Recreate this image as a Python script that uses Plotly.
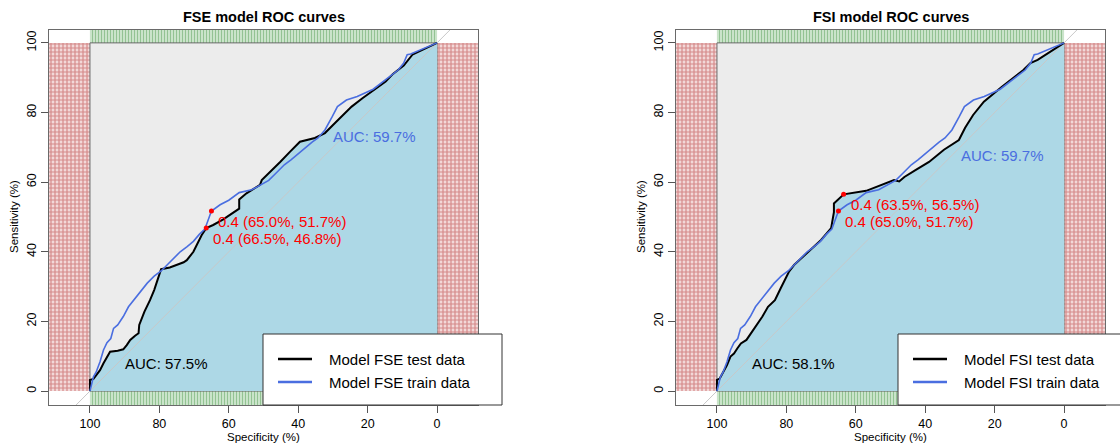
import plotly.graph_objects as go

W, H = 1120, 448

# ---------------- data ----------------
fse_test_spec = [100, 100, 99, 98.2, 97.1, 96.1, 95.1, 94.2, 92, 90.4, 89.4, 88.4, 87, 86, 85.8, 85.3,
                 84.3, 82.7, 81.5, 80.5, 79.5, 77, 75, 73, 72.1, 70.2, 67.8, 66.5, 64.5, 61.6, 57, 57,
                 54.9, 53.4, 51, 50.5, 48.1, 45.2, 42.4, 39.5, 35.2, 32.3, 29.4, 27.1, 24.6, 21.5, 18.9,
                 17.3, 14.8, 12.7, 11.2, 9.6, 7.1, 0]
fse_test_sens = [0, 3.2, 3.5, 4.6, 6, 8, 9.9, 11.3, 11.6, 12, 13.2, 14.7, 15.9, 16.6, 19, 20.4,
                 22.8, 26.1, 29, 32, 35, 35.5, 36.2, 37, 37.6, 40, 44.8, 46.8, 47.7, 49.3, 52.4, 55,
                 56.8, 57.8, 59.2, 60.6, 62.9, 65.8, 68.7, 71.6, 72.7, 74.1, 77, 79.3, 81.7, 84.1, 86,
                 87, 88.9, 91.1, 92.4, 93.5, 96.6, 100]

fsi_test_spec = [100, 100, 99.2, 98.2, 97.1, 96.1, 95.1, 94.1, 93.1, 91.5, 89.9, 88.4, 86.9, 85.3, 83.3,
                 81.6, 79.3, 77.8, 74.9, 73, 70, 67.1, 66.3, 66.3, 64.8, 63.5, 57, 50.9, 49, 47.5, 46,
                 42.7, 38.9, 34.6, 30.3, 28.5, 26.2, 23.1, 17.9, 11.7, 9.7, 7.6, 0]
fsi_test_sens = [0, 3.2, 3.6, 5.5, 7.5, 9.9, 10.8, 12.3, 13.7, 14.7, 17, 19, 21.4, 24.2, 26.1,
                 29.6, 34.2, 36.2, 38.8, 40.5, 43.4, 46.8, 51.4, 53.9, 55.4, 56.5, 57.5, 59.7, 60.6, 60.2, 61.5,
                 63.5, 65.8, 69.3, 72.1, 75.6, 79.3, 83.1, 87.4, 92.2, 94.2, 95.1, 100]

train_spec = [100, 99.4, 99, 98.2, 97.1, 96.1, 95.1, 94, 93.2, 92, 90.4, 88.9, 87.4, 85.5, 83.5, 81.5,
              79.5, 77.5, 75.5, 74, 72, 70.2, 68.5, 66.9, 65, 62.5, 60, 57, 53.4, 51, 48.5, 46.5, 44,
              42, 40, 38, 36, 34.3, 32.3, 30.2, 28.7, 26.1, 23, 18.4, 14.3, 11.2, 9.6, 8.6, 7.6, 0]
train_sens = [0, 2.7, 4.1, 5.5, 8.4, 11.8, 13.9, 15.1, 18, 19, 21.4, 24.2, 26.1, 28.5, 31, 33,
              34.5, 36.5, 38.5, 40, 41.5, 43, 45, 46.5, 51.7, 53.5, 54.8, 57, 57.8, 59.2, 60.5, 62.5, 65,
              66.5, 68.2, 69.8, 71.5, 72.7, 75, 78.8, 81.7, 83.6, 84.6, 86.7, 89.7, 92.2, 94.2, 96.6, 96.8, 100]

fse_thr_spec = [65.0, 66.5]
fse_thr_sens = [51.7, 46.8]
fsi_thr_spec = [63.5, 65.0]
fsi_thr_sens = [56.5, 51.7]
thr_value = 0.4

fse_auc = [57.5, 59.7]   # test, train
fsi_auc = [58.1, 59.7]
fse_auc_pos = [(90.5, 8.0), (30.5, 73.0)]
fsi_auc_pos = [(90.5, 8.0), (30.3, 67.8)]

titles = ["FSE model ROC curves", "FSI model ROC curves"]
legend_labels = [["Model FSE test data", "Model FSE train data"],
                 ["Model FSI test data", "Model FSI train data"]]
tick_vals = [0, 20, 40, 60, 80, 100]

# ---------------- style ----------------
FONT = "Liberation Sans, Arial, sans-serif"
BLACK = "#000000"
BLUE = "#4a6ee0"
RED = "#ff0000"
X_RANGE = [111.8, -11.8]
Y_RANGE = [-4.0, 103.7]
BOX_PX = [(49, 478), (676, 1105)]
BOX_Y_PX = (30, 405)


def px_x(p):
    return p / W


def px_y(p):
    return 1 - p / H


fig = go.Figure()

panels = [
    dict(test_spec=fse_test_spec, test_sens=fse_test_sens, thr_spec=fse_thr_spec,
         thr_sens=fse_thr_sens, auc=fse_auc, auc_pos=fse_auc_pos),
    dict(test_spec=fsi_test_spec, test_sens=fsi_test_sens, thr_spec=fsi_thr_spec,
         thr_sens=fsi_thr_sens, auc=fsi_auc, auc_pos=fsi_auc_pos),
]

annotations = []
shapes = []

for i, p in enumerate(panels):
    xa = "x" if i == 0 else "x2"
    ya = "y" if i == 0 else "y2"
    common = dict(xaxis=xa, yaxis=ya, showlegend=False, hoverinfo="skip")

    # red hatched zones (specificity outside 0-100)
    for xs in ([X_RANGE[0], 100, 100, X_RANGE[0]], [0, X_RANGE[1], X_RANGE[1], 0]):
        fig.add_trace(go.Scatter(x=xs, y=[0, 0, 100, 100], mode="lines", fill="toself",
                                 line=dict(width=0), fillcolor="#ebc4c4",
                                 fillpattern=dict(shape="+", fgcolor="#b83a3a", bgcolor="#f2d8d8",
                                                  size=4, solidity=0.5),
                                 **common))
    # green hatched zones (sensitivity outside 0-100)
    for ys in ([100, 100, Y_RANGE[1], Y_RANGE[1]], [Y_RANGE[0], Y_RANGE[0], 0, 0]):
        fig.add_trace(go.Scatter(x=[100, 0, 0, 100], y=ys, mode="lines", fill="toself",
                                 line=dict(width=0), fillcolor="#cfe5cf",
                                 fillpattern=dict(shape="|", fgcolor="#4a984a", bgcolor="#dcefdc",
                                                  size=3, solidity=0.5),
                                 **common))
    # max AUC polygon (grey square)
    fig.add_trace(go.Scatter(x=[100, 0, 0, 100, 100], y=[0, 0, 100, 100, 0], mode="lines",
                             fill="toself", fillcolor="#ececec",
                             line=dict(color="#6a6a6a", width=1), **common))
    # AUC polygon under the test curve
    fig.add_trace(go.Scatter(x=p["test_spec"] + [0, 100], y=p["test_sens"] + [0, 0], mode="lines",
                             fill="toself", fillcolor="#add8e6", line=dict(width=0), **common))
    # chance diagonal
    fig.add_trace(go.Scatter(x=[120, -20], y=[-20, 120], mode="lines",
                             line=dict(color="#c8c8c8", width=1), **common))
    # ROC curves
    fig.add_trace(go.Scatter(x=p["test_spec"], y=p["test_sens"], mode="lines",
                             line=dict(color=BLACK, width=2), **common))
    fig.add_trace(go.Scatter(x=train_spec, y=train_sens, mode="lines",
                             line=dict(color=BLUE, width=1.6), **common))
    # thresholds
    fig.add_trace(go.Scatter(x=p["thr_spec"], y=p["thr_sens"], mode="markers",
                             marker=dict(color=RED, size=5), cliponaxis=False, **common))
    for sx, sy in zip(p["thr_spec"], p["thr_sens"]):
        annotations.append(dict(x=sx, y=sy, xref=xa, yref=ya, xanchor="left", yanchor="middle",
                                xshift=5, yshift=-10, showarrow=False,
                                text=f"{thr_value} ({sx:.1f}%, {sy:.1f}%)",
                                font=dict(family=FONT, size=15, color=RED)))
    # AUC labels
    for (ax_, ay_), val, col in zip(p["auc_pos"], p["auc"], [BLACK, BLUE]):
        annotations.append(dict(x=ax_, y=ay_, xref=xa, yref=ya, xanchor="left", yanchor="middle",
                                showarrow=False, text=f"AUC: {val}%",
                                font=dict(family=FONT, size=15, color=col)))

    bx0, bx1 = BOX_PX[i]
    cx = (bx0 + bx1) / 2
    # title
    annotations.append(dict(x=px_x(cx), y=px_y(17), xref="paper", yref="paper", showarrow=False,
                            xanchor="center", yanchor="middle", text=f"<b>{titles[i]}</b>",
                            font=dict(family=FONT, size=14.5, color="#000")))
    # axis titles
    annotations.append(dict(x=px_x(cx), y=px_y(437), xref="paper", yref="paper", showarrow=False,
                            xanchor="center", yanchor="middle", text="Specificity (%)",
                            font=dict(family=FONT, size=11.5, color="#000")))
    annotations.append(dict(x=px_x(bx0 - 35), y=px_y(217), xref="paper", yref="paper",
                            showarrow=False, xanchor="center", yanchor="middle", textangle=-90,
                            text="Sensitivity (%)", font=dict(family=FONT, size=11.5, color="#000")))

    # legend (drawn like R's legend box)
    lx0 = 263 if i == 0 else 898
    lx1 = lx0 + 239
    ly0, ly1 = 334, 405
    shapes.append(dict(type="rect", xref="paper", yref="paper", x0=px_x(lx0), x1=px_x(lx1),
                       y0=px_y(ly1), y1=px_y(ly0), fillcolor="white",
                       line=dict(color="#333333", width=1), layer="above"))
    for k, (col, lab) in enumerate(zip([BLACK, BLUE], legend_labels[i])):
        yy = 359 + k * 23
        shapes.append(dict(type="line", xref="paper", yref="paper", x0=px_x(lx0 + 15),
                           x1=px_x(lx0 + 49), y0=px_y(yy), y1=px_y(yy),
                           line=dict(color=col, width=2.5), layer="above"))
        annotations.append(dict(x=px_x(lx0 + 64), y=px_y(yy), xref="paper", yref="paper",
                                showarrow=False, xanchor="left", yanchor="middle", text=lab,
                                font=dict(family=FONT, size=15, color="#000")))

axis_common = dict(showgrid=False, zeroline=False, showline=True, mirror=True,
                   linecolor="#6a6a6a", linewidth=1, ticks="outside", ticklen=7,
                   tickcolor="#555555", tickvals=tick_vals,
                   tickfont=dict(family=FONT, size=12.5, color="#000"), fixedrange=True)

layout_axes = {}
for i in range(2):
    sfx = "" if i == 0 else "2"
    bx0, bx1 = BOX_PX[i]
    layout_axes["xaxis" + sfx] = dict(axis_common, range=X_RANGE,
                                      domain=[px_x(bx0), px_x(bx1)],
                                      anchor="y" + sfx)
    layout_axes["yaxis" + sfx] = dict(axis_common, range=Y_RANGE,
                                      domain=[px_y(BOX_Y_PX[1]), px_y(BOX_Y_PX[0])],
                                      anchor="x" + sfx, tickangle=-90)

fig.update_layout(
    width=W, height=H,
    margin=dict(l=0, r=0, t=0, b=0),
    paper_bgcolor="white", plot_bgcolor="white",
    annotations=annotations, shapes=shapes,
    **layout_axes,
)

fig.write_html("out.html", config={"displayModeBar": False},
               post_script="document.body.style.margin='0';document.body.style.overflow='hidden';")
